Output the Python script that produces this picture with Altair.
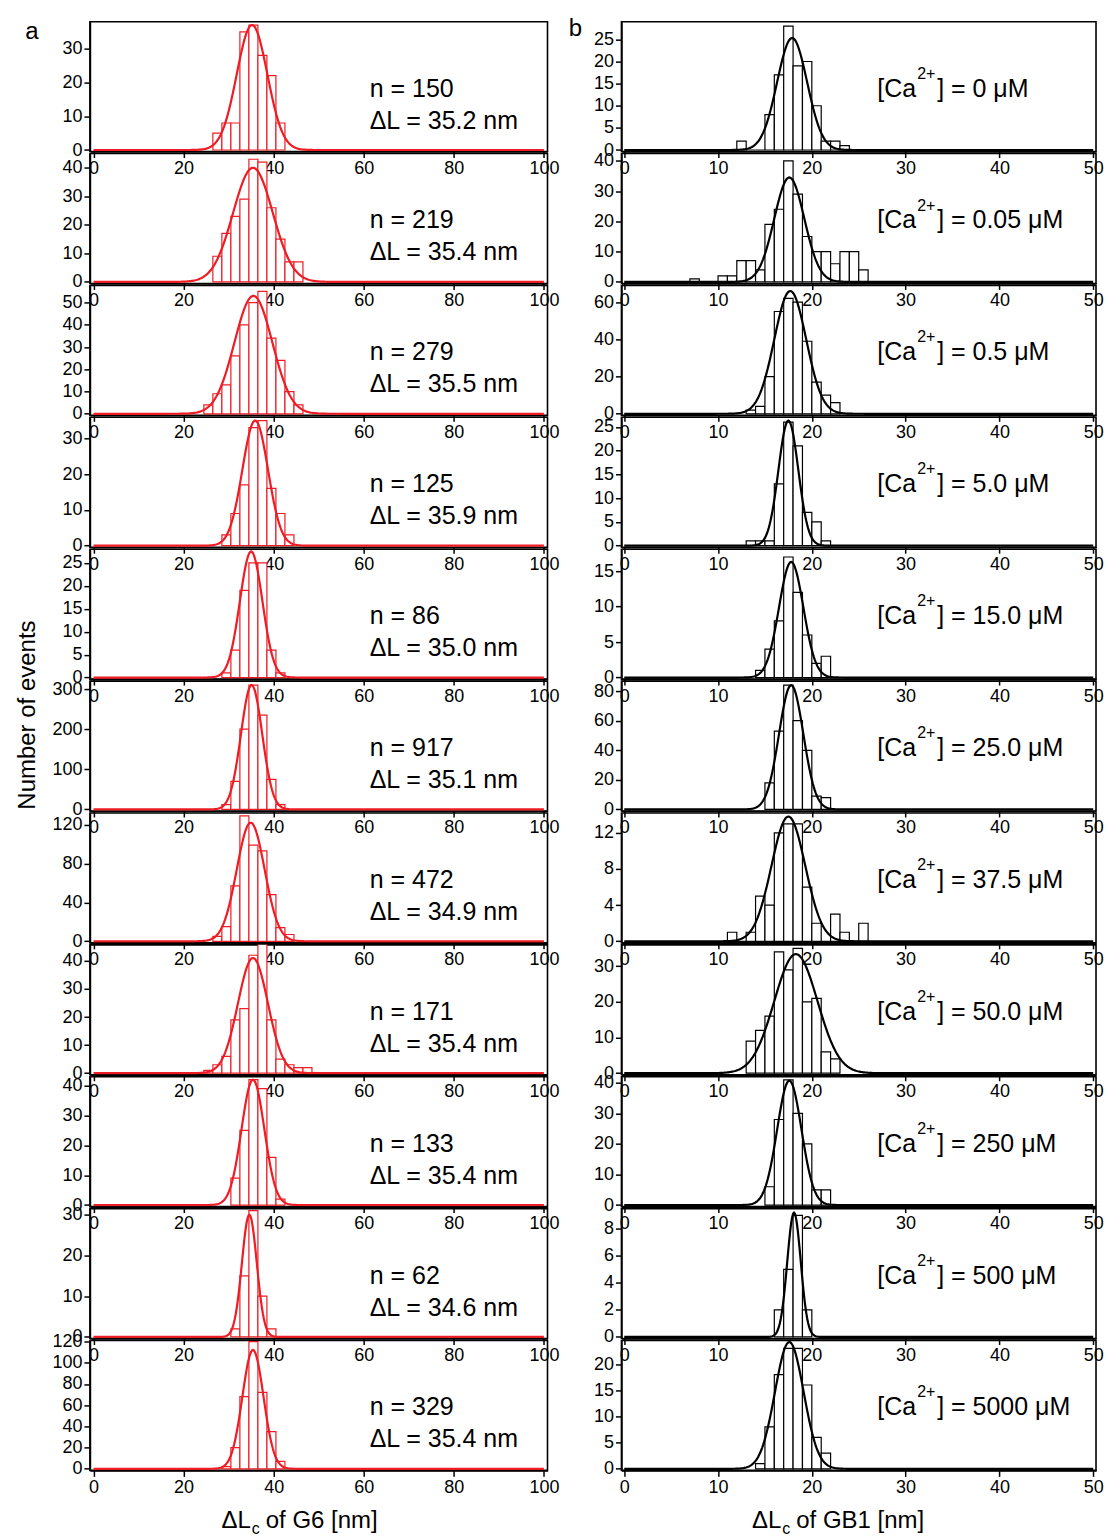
import altair as alt
import pandas as pd

FONT = "Liberation Sans"
RED = "#ee1c24"
BLACK = "#000000"

# ---------------- panel a : G6 (bin width 2 nm) ----------------
g6_n = [150, 219, 279, 125, 86, 917, 472, 171, 133, 62, 329]
g6_dL = [35.2, 35.4, 35.5, 35.9, 35.0, 35.1, 34.9, 35.4, 35.4, 34.6, 35.4]
g6_bin_start = [26.5, 26.5, 24.5, 28.5, 28.5, 28.5, 26.5, 24.5, 30.5, 30.5, 28.5]
g6_counts = [
    [5, 8, 8, 35, 37, 28, 22, 8],
    [9, 17, 23, 29, 43, 42, 26, 15, 7, 7],
    [4, 9, 13, 26, 40, 50, 55, 34, 24, 10, 4],
    [3, 9, 17, 33, 35, 16, 9, 3],
    [1, 6, 19, 25, 25, 6, 1],
    [12, 70, 200, 310, 235, 75, 12],
    [5, 15, 57, 129, 99, 93, 48, 14, 7],
    [1, 3, 6, 19, 23, 42, 46, 19, 5, 3, 2, 2],
    [9, 25, 42, 39, 16, 2],
    [2, 15, 31, 10, 2],
    [2, 20, 68, 120, 72, 35, 7],
]
g6_fit_peak = [37, 40, 53, 35, 27.5, 310, 122, 41, 42, 30, 112]
g6_fit_sigma = [3.4, 4.4, 4.2, 2.85, 2.5, 2.36, 3.09, 3.33, 2.53, 1.65, 2.35]
g6_ymax = [38, 45, 57.7, 35.9, 28, 320, 132, 45.7, 43, 31.5, 121]
g6_yticks = [
    [0, 10, 20, 30], [0, 10, 20, 30, 40], [0, 10, 20, 30, 40, 50], [0, 10, 20, 30],
    [0, 5, 10, 15, 20, 25], [0, 100, 200, 300], [0, 40, 80, 120], [0, 10, 20, 30, 40],
    [0, 10, 20, 30, 40], [0, 10, 20, 30], [0, 20, 40, 60, 80, 100, 120],
]
g6_xticks = [0, 20, 40, 60, 80, 100]

# ---------------- panel b : GB1 (bin width 1 nm) ----------------
gb1_conc = ["0", "0.05", "0.5", "5.0", "15.0", "25.0", "37.5", "50.0", "250", "500", "5000"]
gb1_bin_start = [12, 7, 13, 13, 14, 15, 11, 13, 15, 16, 14]
gb1_counts = [
    [2, 0, 0, 8, 17, 28, 19, 20, 10, 2, 2, 1],
    [1, 0, 0, 2, 2, 7, 7, 4, 19, 24, 40, 29, 15, 10, 10, 6, 10, 10, 4],
    [2, 4, 20, 55, 62, 60, 39, 17, 10, 6],
    [1, 1, 1, 13, 26, 21, 7, 5, 1],
    [1, 4, 8, 17, 12, 6, 2, 3],
    [18, 53, 84, 60, 40, 9, 8],
    [1, 0, 1, 5, 4, 12, 13, 13, 6, 2, 0, 3, 1, 0, 2],
    [9, 12, 16, 34, 29, 35, 20, 21, 6, 4],
    [6, 28, 41, 30, 20, 5, 5],
    [2, 5, 9, 2],
    [1, 8, 18, 23, 23, 16, 6, 3],
]
gb1_fit_center = [17.9, 17.6, 17.7, 17.5, 17.8, 17.8, 17.5, 18.3, 17.6, 18.1, 17.6]
gb1_fit_peak = [25.3, 34.5, 66, 26.3, 16.3, 84, 13.8, 33.4, 40.7, 9.2, 24.2]
gb1_fit_sigma = [1.6, 1.6, 1.7, 1.06, 1.3, 1.3, 1.8, 2.3, 1.3, 0.72, 1.53]
gb1_ymax = [29, 42.4, 69, 27, 18.1, 86.8, 14.2, 36, 42, 9.5, 24.5]
gb1_yticks = [
    [0, 5, 10, 15, 20, 25], [0, 10, 20, 30, 40], [0, 20, 40, 60], [0, 5, 10, 15, 20, 25],
    [0, 5, 10, 15], [0, 20, 40, 60, 80], [0, 4, 8, 12], [0, 10, 20, 30],
    [0, 10, 20, 30, 40], [0, 2, 4, 6, 8], [0, 5, 10, 15, 20],
]
gb1_xticks = [0, 10, 20, 30, 40, 50]

PANEL_H = 130
LEFT_W = 458
RIGHT_W = 475


def txt(s, x, y, size=25, align="left", baseline="middle", angle=None):
    kw = dict(font=FONT, fontSize=size, align=align, baseline=baseline, color="black")
    if angle is not None:
        kw["angle"] = angle
    return alt.Chart(pd.DataFrame({"t": [s]})).mark_text(**kw).encode(
        x=alt.value(x), y=alt.value(y), text="t:N")


def panel(start, width, counts, mu, peak, sigma, ymax, yticks, xdom, xticks, color, W, extras):
    x0 = [start + i * width for i in range(len(counts))]
    bars = pd.DataFrame({"x0": x0, "x1": [v + width for v in x0], "c": counts,
                         "b": [0] * len(counts)})
    xs = alt.Scale(domain=xdom, nice=False, zero=False)
    ys = alt.Scale(domain=[-ymax * 0.012, ymax], nice=False, zero=False)
    xax = alt.Axis(values=xticks, title=None, labelOverlap=False)
    yax = alt.Axis(values=yticks, title=None, labelOverlap=False)
    bar = alt.Chart(bars).mark_bar(fill="white", stroke=color, strokeWidth=1.2, clip=True).encode(
        x=alt.X("x0:Q", scale=xs, axis=xax), x2="x1:Q",
        y=alt.Y("c:Q", scale=ys, axis=yax), y2="b:Q")
    hi = xticks[-1]
    curve = alt.Chart(alt.sequence(0, hi + hi / 1000.0, hi / 500.0, as_="x")).transform_calculate(
        y=f"{peak}*exp(-0.5*pow((datum.x-{mu})/{sigma},2))"
    ).mark_line(color=color, strokeWidth=2.2, clip=True).encode(
        x=alt.X("x:Q", scale=xs, axis=xax), y=alt.Y("y:Q", scale=ys, axis=yax))
    return alt.layer(bar, curve, *extras).properties(width=W, height=PANEL_H)


panels = []
for i in range(11):
    ex = [txt(f"n = {g6_n[i]}", 280, 67), txt(f"\u0394L = {g6_dL[i]:.1f} nm", 280, 99)]
    if i == 0:
        ex.append(txt("a", -58, 10, size=24, align="center"))
    if i == 5:
        ex.append(txt("Number of events", -55, 34, size=24, align="center",
                      baseline="alphabetic", angle=270))
    if i == 10:
        ex += [txt("\u0394L", 161, 188, size=24, align="right", baseline="alphabetic"),
               txt("c", 162, 194, size=16, baseline="alphabetic"),
               txt("of G6 [nm]", 176, 188, size=24, baseline="alphabetic")]
    panels.append(panel(g6_bin_start[i], 2, g6_counts[i], g6_dL[i], g6_fit_peak[i],
                        g6_fit_sigma[i], g6_ymax[i], g6_yticks[i], [-0.8, 100.8],
                        g6_xticks, RED, LEFT_W, ex))

    ex = [txt("[Ca", 256, 67), txt("2+", 296, 52, size=16),
          txt(f"] = {gb1_conc[i]} \u03bcM", 316, 67)]
    if i == 0:
        ex.append(txt("b", -46, 7, size=24, align="center"))
    if i == 10:
        ex += [txt("\u0394L", 160, 188, size=24, align="right", baseline="alphabetic"),
               txt("c", 161, 194, size=16, baseline="alphabetic"),
               txt("of GB1 [nm]", 175, 188, size=24, baseline="alphabetic")]
    panels.append(panel(gb1_bin_start[i], 1, gb1_counts[i], gb1_fit_center[i],
                        gb1_fit_peak[i], gb1_fit_sigma[i], gb1_ymax[i], gb1_yticks[i],
                        [-0.3, 50.3], gb1_xticks, BLACK, RIGHT_W, ex))

chart = alt.concat(
    *panels, columns=2, spacing={"row": 2, "column": 74}, bounds="flush", align="each"
).properties(
    padding={"left": 15, "top": 15, "right": 5, "bottom": 0},
    background="white",
).configure_view(
    stroke="black", strokeWidth=1.6
).configure_axis(
    labelFont=FONT, labelFontSize=18, labelColor="black", labelPadding=2,
    labelFlush=False, labelOverlap=False, grid=False,
    domainColor="black", domainWidth=1.6, tickColor="black", tickWidth=1.5, tickSize=6,
)

chart.save("out.html", embed_options={"renderer": "svg", "actions": False})
